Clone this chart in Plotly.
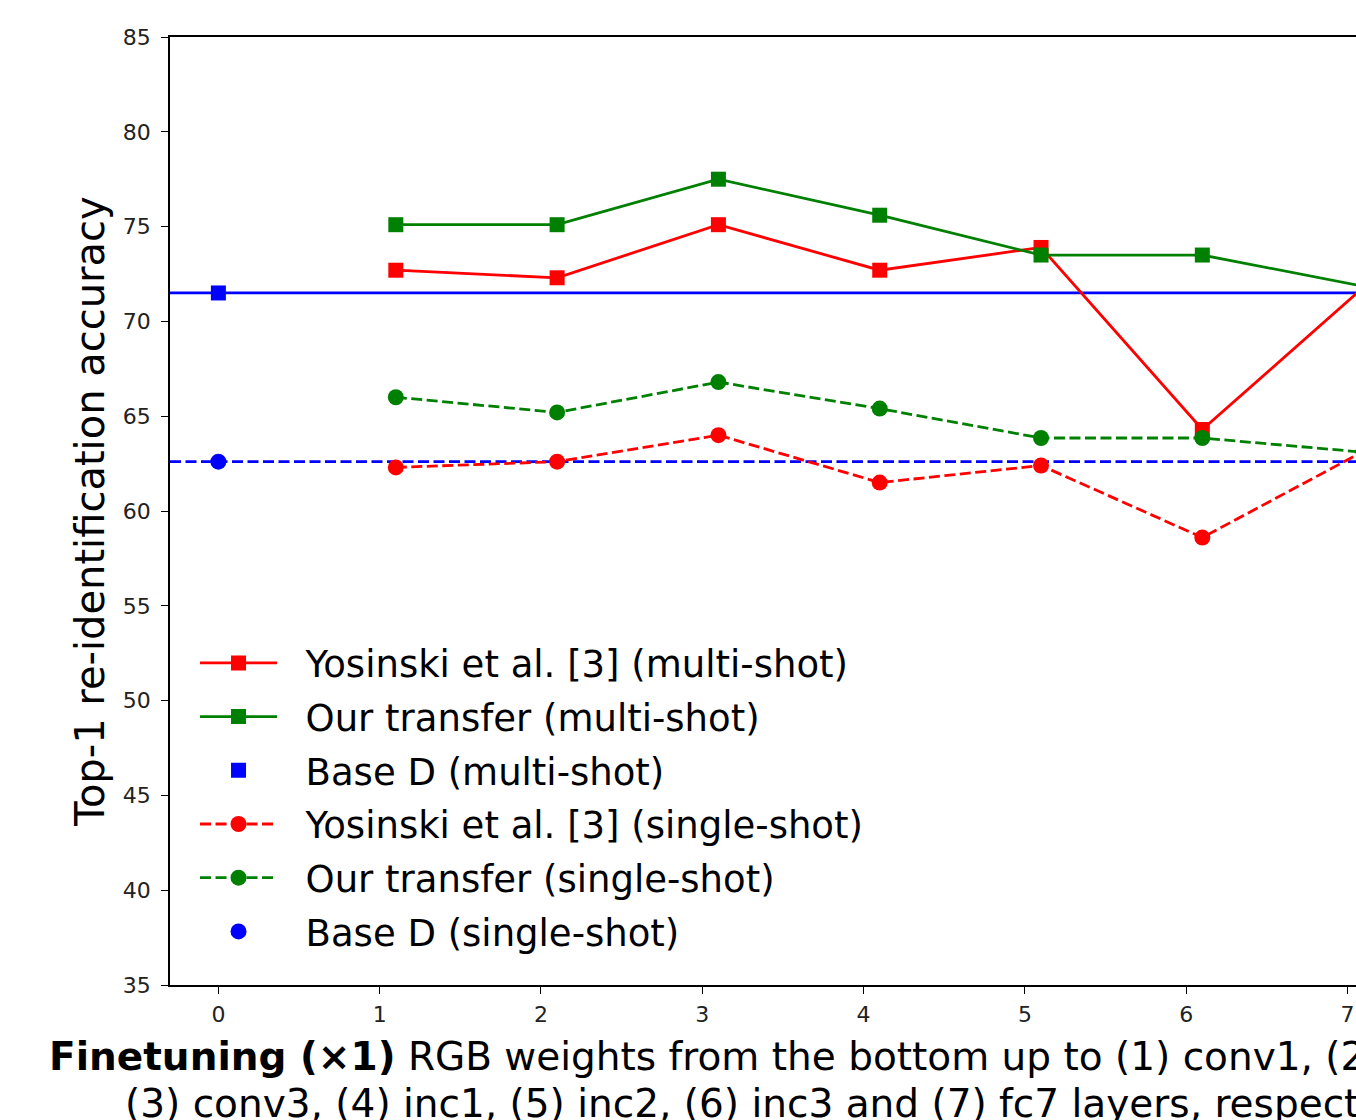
import plotly.graph_objects as go

# ---- data ----
x_layers = [1.1, 2.1, 3.1, 4.1, 5.1, 6.1, 7.1]
yosinski_multi = [72.7, 72.3, 75.1, 72.7, 73.9, 64.3, 71.8]
our_multi = [75.1, 75.1, 77.5, 75.6, 73.5, 73.5, 71.85]
yosinski_single = [62.3, 62.6, 64.0, 61.5, 62.4, 58.6, 63.15]
our_single = [66.0, 65.2, 66.8, 65.4, 63.85, 63.85, 63.1]
base_x = [0]
base_multi = [71.5]
base_single = [62.6]

x_ticks = [0, 1, 2, 3, 4, 5, 6, 7]
y_ticks = [35, 40, 45, 50, 55, 60, 65, 70, 75, 80, 85]

names = [
    "Yosinski et al. [3] (multi-shot)",
    "Our transfer (multi-shot)",
    "Base D (multi-shot)",
    "Yosinski et al. [3] (single-shot)",
    "Our transfer (single-shot)",
    "Base D (single-shot)",
]
PAD = "\u00a0\u00a0"  # gap between legend sample and its label

RED = "#ff0000"
GREEN = "#008000"
BLUE = "#0000ff"
FONT = "DejaVu Sans"
DASH = "11px,4.5px"
LW = 2.8
SQ = 15
CI = 16

fig = go.Figure()

# horizontal base lines (span the whole axes)
fig.add_shape(type="line", xref="paper", x0=0, x1=1, yref="y",
              y0=base_multi[0], y1=base_multi[0], line=dict(color=BLUE, width=LW), layer="below")
fig.add_shape(type="line", xref="paper", x0=0, x1=1, yref="y",
              y0=base_single[0], y1=base_single[0], line=dict(color=BLUE, width=LW, dash=DASH), layer="below")

fig.add_trace(go.Scatter(x=x_layers, y=yosinski_multi, mode="lines+markers", name=PAD + names[0],
                         line=dict(color=RED, width=LW), marker=dict(symbol="square", size=SQ, color=RED),
                         legendgroup="a"))
fig.add_trace(go.Scatter(x=x_layers, y=our_multi, mode="lines+markers", name=PAD + names[1],
                         line=dict(color=GREEN, width=LW), marker=dict(symbol="square", size=SQ, color=GREEN),
                         legendgroup="b"))
fig.add_trace(go.Scatter(x=base_x, y=base_multi, mode="markers", name=PAD + names[2],
                         marker=dict(symbol="square", size=SQ, color=BLUE), legendgroup="c"))
fig.add_trace(go.Scatter(x=x_layers, y=yosinski_single, mode="lines+markers", name=PAD + names[3],
                         line=dict(color=RED, width=LW, dash=DASH), marker=dict(symbol="circle", size=CI, color=RED),
                         legendgroup="d"))
fig.add_trace(go.Scatter(x=x_layers, y=our_single, mode="lines+markers", name=PAD + names[4],
                         line=dict(color=GREEN, width=LW, dash=DASH), marker=dict(symbol="circle", size=CI, color=GREEN),
                         legendgroup="e"))
fig.add_trace(go.Scatter(x=base_x, y=base_single, mode="markers", name=PAD + names[5],
                         marker=dict(symbol="circle", size=CI, color=BLUE), legendgroup="f"))

L, T, B = 170, 37, 135
W, H = 1356, 1120
unit = 161.3
x_lo = -0.3
x_hi = x_lo + (W - L) / unit

fig.update_layout(
    width=W, height=H,
    margin=dict(l=L, r=0, t=T, b=B, autoexpand=False),
    plot_bgcolor="white", paper_bgcolor="white",
    font=dict(family=FONT, color="black"),
    showlegend=True,
    legend=dict(x=0.0211, y=0.372, xanchor="left", yanchor="top",
                font=dict(family=FONT, size=37, color="black"),
                bgcolor="rgba(0,0,0,0)", tracegroupgap=2.6, itemwidth=77,
                traceorder="grouped"),
    xaxis=dict(range=[x_lo, x_hi], tickvals=x_ticks, ticktext=[str(v) for v in x_ticks],
               showgrid=False, zeroline=False, showline=True, linecolor="black", linewidth=1.5,
               mirror=True, ticks="outside", ticklen=7, tickwidth=1.2, tickcolor="black",
               tickfont=dict(family=FONT, size=22, color="#222222"), ticklabelstandoff=2),
    yaxis=dict(range=[35, 85], tickvals=y_ticks, ticktext=[str(v) for v in y_ticks],
               showgrid=False, zeroline=False, showline=True, linecolor="black", linewidth=1.5,
               ticks="outside", ticklen=7, tickwidth=1.2, tickcolor="black",
               tickfont=dict(family=FONT, size=22, color="#222222"), ticklabelstandoff=6,
               title=dict(text="Top-1 re-identification accuracy", font=dict(family=FONT, size=40, color="black"),
                          standoff=6)),
)

pw = W - L
ph = H - B - T
fig.add_annotation(xref="paper", yref="paper", x=(47 - L) / pw, y=-(1056 - (H - B)) / ph,
                   xanchor="left", yanchor="middle", showarrow=False,
                   text="<b>Finetuning (×1)</b> RGB weights from the bottom up to (1) conv1, (2) conv2,",
                   font=dict(family=FONT, size=39, color="black"))
fig.add_annotation(xref="paper", yref="paper", x=(123 - L) / pw, y=-(1103 - (H - B)) / ph,
                   xanchor="left", yanchor="middle", showarrow=False,
                   text="(3) conv3, (4) inc1, (5) inc2, (6) inc3 and (7) fc7 layers, respectively.",
                   font=dict(family=FONT, size=39, color="black"))

fig.write_html("out.html", config={"displayModeBar": False},
               post_script="document.body.style.margin='0';document.body.style.overflow='hidden';")
